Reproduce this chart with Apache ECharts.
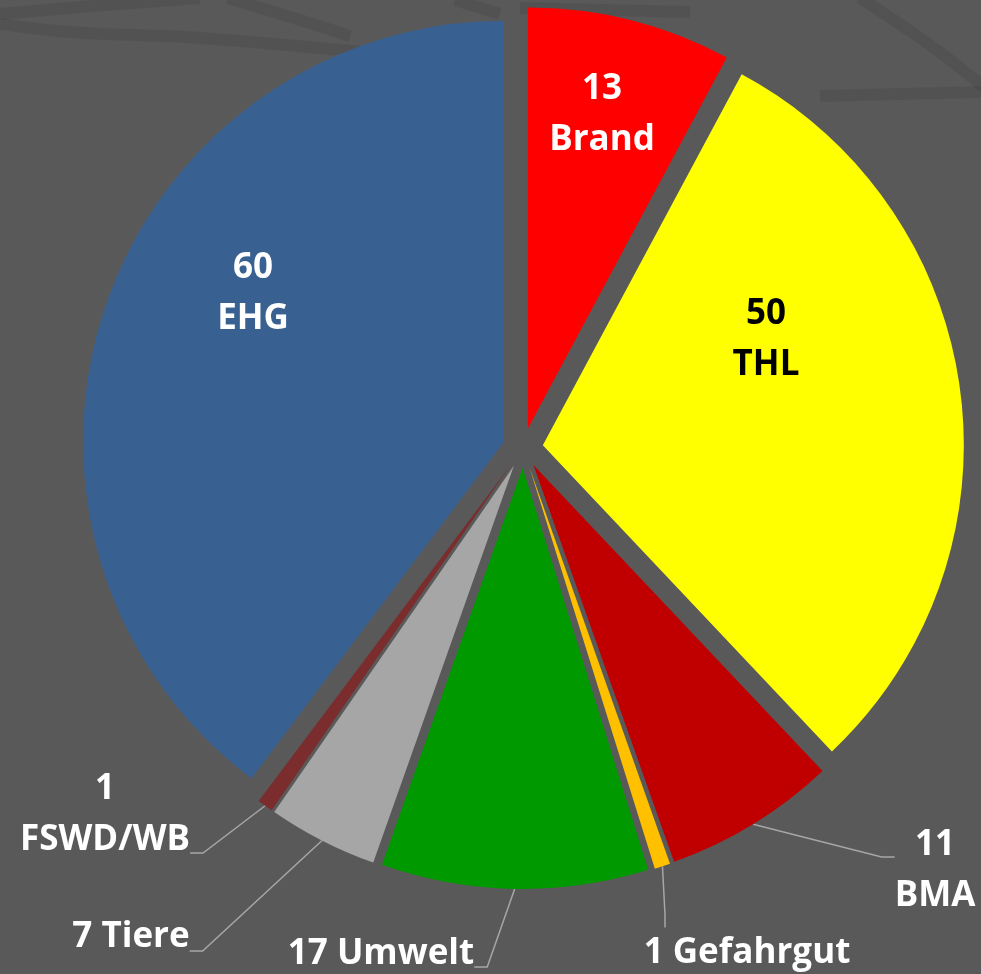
<!DOCTYPE html>
<html>
<head>
<meta charset="utf-8">
<script src="https://cdn.jsdelivr.net/npm/echarts@6/dist/echarts.min.js"></script>
<style>
  html, body { margin: 0; padding: 0; background: #595959; }
  #chart { width: 981px; height: 974px; }
</style>
</head>
<body>
<div id="chart"></div>
<script>
// Einsätze nach Kategorie
const categories = ['Brand', 'THL', 'BMA', 'Gefahrgut', 'Umwelt', 'Tiere', 'FSWD/WB', 'EHG']
// Segmentgrößen wie im Bild gemessen (EHG-Segment entspricht ca. 66 von 166)
const values = [13, 50, 11, 1, 17, 7, 1, 66]
// Zahlen, die in den Beschriftungen stehen
const printedValues = [13, 50, 11, 1, 17, 7, 1, 60]
const colors = ['#ff0000', '#ffff00', '#c00000', '#ffc000', '#009900', '#a6a6a6', '#7b2c2c', '#386192']

// Beschriftungen: innen oder außen mit Führungslinie
const insideLabels = ['Brand', 'THL', 'EHG']
const stackedLabels = ['Brand', 'THL', 'EHG', 'BMA', 'FSWD/WB']
// Textmitte der Beschriftung
const labelPos = {
  Brand: [602, 115],
  THL: [766, 340],
  EHG: [253, 294],
  BMA: [935, 871],
  Gefahrgut: [747, 953],
  Umwelt: [381, 954],
  Tiere: [131, 937],
  'FSWD/WB': [105, 815]
}
// Leerraum über/unter dem Text, damit die Führungslinie wie im Original ansetzt
const labelGap = {
  BMA: [28, 0],
  Umwelt: [0, 26],
  Tiere: [0, 28],
  'FSWD/WB': [0, 76]
}
const labelPadLeft = { Gefahrgut: 164 }

const pieCenter = [523, 448]
const pieRadius = 421
const explode = 20

// Hintergrundmuster (dunklere Bänder oben)
const bgBands = [
  [[0, 24], [70, 32], [200, 38], [340, 50], [430, 58]],
  [[0, 14], [80, 7], [200, -2]],
  [[228, -2], [300, 20], [350, 36]],
  [[455, 0], [500, 14]],
  [[520, 8], [690, 12]],
  [[860, -2], [930, 45], [985, 88]],
  [[820, 96], [985, 92]]
]

const textStyle = {
  fontFamily: 'Open Sans',
  fontWeight: 'bold',
  fontSize: 35,
  lineHeight: 51
}

let myChart = echarts.init(document.getElementById('chart'))

let total = values.reduce((a, b) => a + b, 0)
let acc = 0
let series = categories.map((name, i) => {
  // jedes Segment als eigene Serie, entlang der Winkelhalbierenden verschoben
  let mid = (acc + values[i] / 2) / total * Math.PI * 2
  acc += values[i]
  let inside = insideLabels.indexOf(name) >= 0
  let lines = stackedLabels.indexOf(name) >= 0
    ? [printedValues[i], name]
    : [printedValues[i] + ' ' + name]
  let gap = labelGap[name] || [0, 0]
  let padLeft = labelPadLeft[name] || 0
  let color = name === 'THL' ? '#000' : '#fff'
  let fmt = lines.map(l => '{t|' + l + '}').join('\n')
  if (gap[0]) fmt = '{top| }\n' + fmt
  if (gap[1]) fmt = fmt + '\n{bot| }'
  let data = values.map((v, j) => {
    if (j !== i) {
      return {
        name: categories[j],
        value: v,
        itemStyle: { color: 'rgba(0,0,0,0)' },
        label: { show: false },
        labelLine: { show: false }
      }
    }
    return {
      name: name,
      value: v,
      itemStyle: { color: colors[i] },
      label: {
        show: true,
        position: inside ? 'inside' : 'outside',
        padding: [0, 0, 0, padLeft],
        formatter: fmt,
        rich: {
          t: Object.assign({ color: color }, textStyle),
          top: { fontSize: 1, lineHeight: gap[0] },
          bot: { fontSize: 1, lineHeight: gap[1] }
        }
      },
      labelLine: { show: !inside }
    }
  })
  return {
    type: 'pie',
    name: name,
    center: [pieCenter[0] + explode * Math.sin(mid), pieCenter[1] - explode * Math.cos(mid)],
    radius: pieRadius,
    startAngle: 90,
    clockwise: true,
    avoidLabelOverlap: false,
    silent: true,
    emphasis: { disabled: true },
    itemStyle: { borderWidth: 0 },
    label: Object.assign({ align: 'center' }, textStyle),
    labelLine: {
      length: 20,
      length2: 13,
      lineStyle: { color: '#a6a6a6', width: 1.5 }
    },
    labelLayout: function (params) {
      if (params.dataIndex !== i) return {}
      let pos = labelPos[name]
      return {
        x: pos[0] - padLeft / 2,
        y: pos[1] + (gap[1] - gap[0]) / 2,
        align: 'center',
        verticalAlign: 'middle'
      }
    },
    data: data
  }
})

let option = {
  backgroundColor: '#595959',
  animation: false,
  graphic: bgBands.map(pts => ({
    type: 'polyline',
    silent: true,
    z: -10,
    shape: { points: pts, smooth: 0.4 },
    style: { stroke: 'rgba(0,0,0,0.07)', lineWidth: 12, fill: null }
  })),
  series: series
}
myChart.setOption(option)
</script>
</body>
</html>
